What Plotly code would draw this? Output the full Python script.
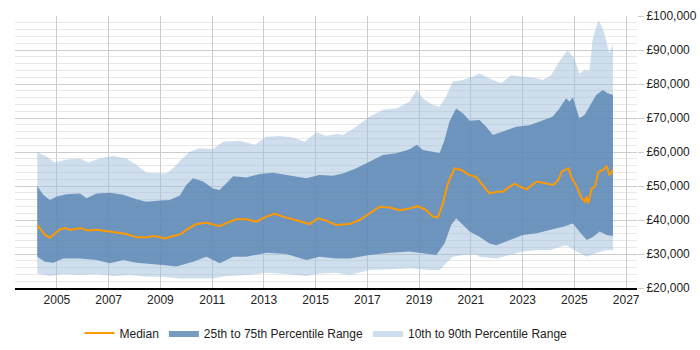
import plotly.graph_objects as go

# ---- data (decimal year, £) ----
median_years = [2004.24, 2004.54, 2004.73, 2004.92, 2005.12, 2005.31, 2005.50, 2005.90, 2006.20, 2006.53,
                2006.92, 2007.30, 2007.69, 2008.08, 2008.46, 2008.78, 2009.17, 2009.49, 2009.80, 2010.00,
                2010.39, 2010.78, 2011.03, 2011.29, 2011.68, 2011.94, 2012.32, 2012.71, 2013.10, 2013.42,
                2013.74, 2014.12, 2014.51, 2014.77, 2015.09, 2015.41, 2015.80, 2016.31, 2016.70, 2017.08,
                2017.47, 2017.86, 2018.24, 2018.63, 2018.95, 2019.27, 2019.53, 2019.72, 2019.92, 2020.11,
                2020.37, 2020.63, 2020.95, 2021.20, 2021.46, 2021.72, 2021.98, 2022.24, 2022.50, 2022.70,
                2022.90, 2023.15, 2023.54, 2023.93, 2024.19, 2024.38, 2024.51, 2024.77, 2024.90, 2025.09,
                2025.28, 2025.41, 2025.48, 2025.54, 2025.67, 2025.80, 2025.93, 2026.12, 2026.25, 2026.35,
                2026.49]
median = [38500, 35600, 34800, 36100, 37300, 37600, 37100, 37600, 36900, 37100,
          36600, 36300, 35900, 34900, 34900, 35300, 34600, 35300, 35900, 37100,
          38800, 39200, 38800, 38200, 39500, 40200, 40200, 39500, 41000, 41800,
          41000, 40200, 39200, 38800, 40500, 39800, 38500, 38800, 40000, 42000,
          43900, 43700, 42900, 43400, 44100, 42900, 41000, 40800, 44900, 50800,
          55200, 54700, 53200, 52700, 50300, 47800, 48300, 48300, 49800, 50600,
          49800, 49000, 51300, 50800, 50300, 51800, 54200, 55200, 52300, 49800,
          46400, 45400, 46900, 44900, 49300, 49800, 54200, 54700, 55900, 53200,
          54700]

p75_years = [2004.24, 2004.47, 2004.73, 2004.99, 2005.37, 2005.89, 2006.15, 2006.53, 2007.05, 2007.56,
             2008.08, 2008.46, 2008.98, 2009.36, 2009.75, 2010.00, 2010.26, 2010.65, 2011.03, 2011.29,
             2011.55, 2011.81, 2012.32, 2012.84, 2013.35, 2014.00, 2014.64, 2015.15, 2015.67, 2016.05,
             2016.57, 2017.08, 2017.60, 2018.12, 2018.63, 2018.91, 2019.14, 2019.53, 2019.79, 2019.98,
             2020.17, 2020.43, 2020.69, 2020.95, 2021.33, 2021.59, 2021.85, 2022.24, 2022.75, 2023.26,
             2023.78, 2024.16, 2024.42, 2024.68, 2024.81, 2024.94, 2025.19, 2025.39, 2025.58, 2025.84,
             2026.10, 2026.29, 2026.49]
p75 = [50000, 47400, 45900, 46900, 47600, 47800, 46400, 47800, 48000, 47400,
       46100, 45400, 45700, 45900, 47200, 50300, 52300, 51300, 49300, 48800,
       50800, 52900, 52500, 53500, 53900, 53200, 52300, 53200, 53000, 53700,
       55200, 57100, 59100, 59600, 60800, 62100, 60600, 60100, 59600, 63500,
       68900, 72800, 71400, 69200, 69400, 67400, 65000, 66000, 67400, 67900,
       69400, 70400, 72800, 75800, 74800, 76100, 69900, 70900, 73300, 76800,
       78200, 77300, 76800]

p25_years = [2004.24, 2004.54, 2004.86, 2005.24, 2005.89, 2006.53, 2007.05, 2007.56, 2008.08, 2008.59,
             2009.10, 2009.62, 2010.07, 2010.26, 2010.78, 2011.29, 2011.81, 2012.32, 2013.10, 2013.87,
             2014.64, 2015.15, 2015.80, 2016.31, 2017.08, 2017.86, 2018.63, 2019.14, 2019.66, 2019.98,
             2020.24, 2020.43, 2020.69, 2020.95, 2021.33, 2021.72, 2021.98, 2022.50, 2023.01, 2023.54,
             2024.05, 2024.56, 2024.94, 2025.19, 2025.48, 2025.73, 2025.98, 2026.25, 2026.49]
p25 = [29200, 27700, 27400, 28700, 28700, 28200, 27300, 28200, 27400, 27100,
       26800, 26300, 27300, 27700, 29200, 27300, 29200, 29200, 30400, 30000,
       28200, 29200, 28700, 28700, 29700, 30400, 30700, 30200, 29700, 33100,
       38500, 40500, 38500, 36600, 35100, 33100, 32600, 34100, 35600, 36100,
       37100, 38000, 39000, 36600, 34100, 35100, 36600, 35600, 35300]

p90_years = [2004.24, 2004.60, 2004.92, 2005.37, 2005.89, 2006.21, 2006.66, 2007.17, 2007.69, 2008.08,
             2008.46, 2008.85, 2009.23, 2009.49, 2009.81, 2010.14, 2010.52, 2011.03, 2011.42, 2012.06,
             2012.65, 2013.10, 2013.61, 2014.12, 2014.58, 2015.03, 2015.41, 2015.80, 2016.05, 2016.57,
             2017.08, 2017.60, 2018.12, 2018.63, 2018.91, 2019.14, 2019.53, 2019.79, 2020.04, 2020.30,
             2020.69, 2021.08, 2021.33, 2021.85, 2022.17, 2022.56, 2023.01, 2023.54, 2023.78, 2024.10,
             2024.42, 2024.74, 2025.00, 2025.19, 2025.39, 2025.58, 2025.71, 2025.93, 2026.12, 2026.25,
             2026.35, 2026.49]
p90 = [60100, 58600, 56900, 57800, 58100, 56900, 58100, 58800, 58100, 56200,
       53900, 53900, 53700, 55200, 57800, 60100, 61100, 60800, 63000, 63300,
       62100, 64500, 64700, 64300, 63000, 65800, 64700, 65300, 65000, 67400,
       70400, 72400, 72800, 74800, 78400, 75800, 73800, 73300, 76300, 80700,
       81200, 82200, 83100, 81200, 80200, 82600, 82100, 81700, 81200, 82600,
       86600, 90000, 87500, 83100, 84100, 83900, 93400, 98800, 95900, 92400,
       89000, 91500]

p10_years = [2004.24, 2004.73, 2005.24, 2005.89, 2006.53, 2007.17, 2007.82, 2008.46, 2009.10, 2009.75,
             2010.52, 2011.03, 2011.55, 2012.32, 2013.10, 2013.87, 2014.64, 2015.15, 2015.80, 2016.31,
             2017.08, 2017.86, 2018.63, 2019.40, 2019.79, 2020.04, 2020.30, 2020.69, 2021.20, 2021.33,
             2021.98, 2022.50, 2023.01, 2023.54, 2024.05, 2024.42, 2024.68, 2025.09, 2025.48, 2025.86,
             2026.25, 2026.49]
p10 = [24300, 23500, 24100, 23800, 24100, 23500, 23800, 23300, 23300, 22800,
       22800, 22800, 23500, 23800, 24500, 24100, 23500, 24300, 24500, 23800,
       25300, 25500, 25800, 25300, 25300, 27300, 29200, 29700, 30000, 29200,
       28700, 29700, 30700, 31200, 31200, 32000, 32600, 30700, 29200, 30400,
       31200, 31200]

x_tick_years = [2005, 2007, 2009, 2011, 2013, 2015, 2017, 2019, 2021, 2023, 2025, 2027]
x_tick_labels = [str(y) for y in x_tick_years]

series_names = ["Median", "25th to 75th Percentile Range", "10th to 90th Percentile Range"]

fig = go.Figure()

fig.add_trace(go.Scatter(
    x=p90_years + p10_years[::-1], y=p90 + p10[::-1],
    fill="toself", fillcolor="rgba(157,189,219,0.5)",
    line=dict(width=0, color="rgba(157,189,219,0.5)"), mode="lines",
    name=series_names[2], hoverinfo="skip"))

fig.add_trace(go.Scatter(
    x=p75_years + p25_years[::-1], y=p75 + p25[::-1],
    fill="toself", fillcolor="rgba(86,130,176,0.8)",
    line=dict(width=0, color="rgba(86,130,176,0.8)"), mode="lines",
    name=series_names[1], hoverinfo="skip"))

fig.add_trace(go.Scatter(
    x=median_years, y=median, mode="lines",
    line=dict(color="#ff9900", width=2),
    name=series_names[0]))

fig.update_layout(
    width=700, height=350,
    margin=dict(l=15, r=63, t=16, b=62, autoexpand=False),
    plot_bgcolor="white", paper_bgcolor="white",
    font=dict(family="Liberation Sans, Arial, sans-serif", size=12, color="#222"),
    showlegend=True,
    legend=dict(orientation="h", x=0.5, xanchor="center", y=-0.165, yanchor="middle",
                traceorder="reversed", font=dict(size=12)),
)

fig.update_xaxes(
    range=[2003.38, 2027.42], tickvals=x_tick_years, ticktext=x_tick_labels,
    showgrid=True, gridcolor="#cccccc", gridwidth=1,
    showline=True, linecolor="#000000", linewidth=1.5,
    zeroline=False, ticks="", fixedrange=True,
)

fig.update_yaxes(
    side="right", range=[20000, 100000], dtick=10000,
    tickprefix="£", tickformat=",d",
    showgrid=True, gridcolor="#cccccc", gridwidth=1,
    minor=dict(dtick=2000, showgrid=True, gridcolor="#e8e8e8"),
    zeroline=False, showline=False, ticks="outside", ticklen=6, tickcolor="#cccccc",
)

fig.write_html("out.html")
